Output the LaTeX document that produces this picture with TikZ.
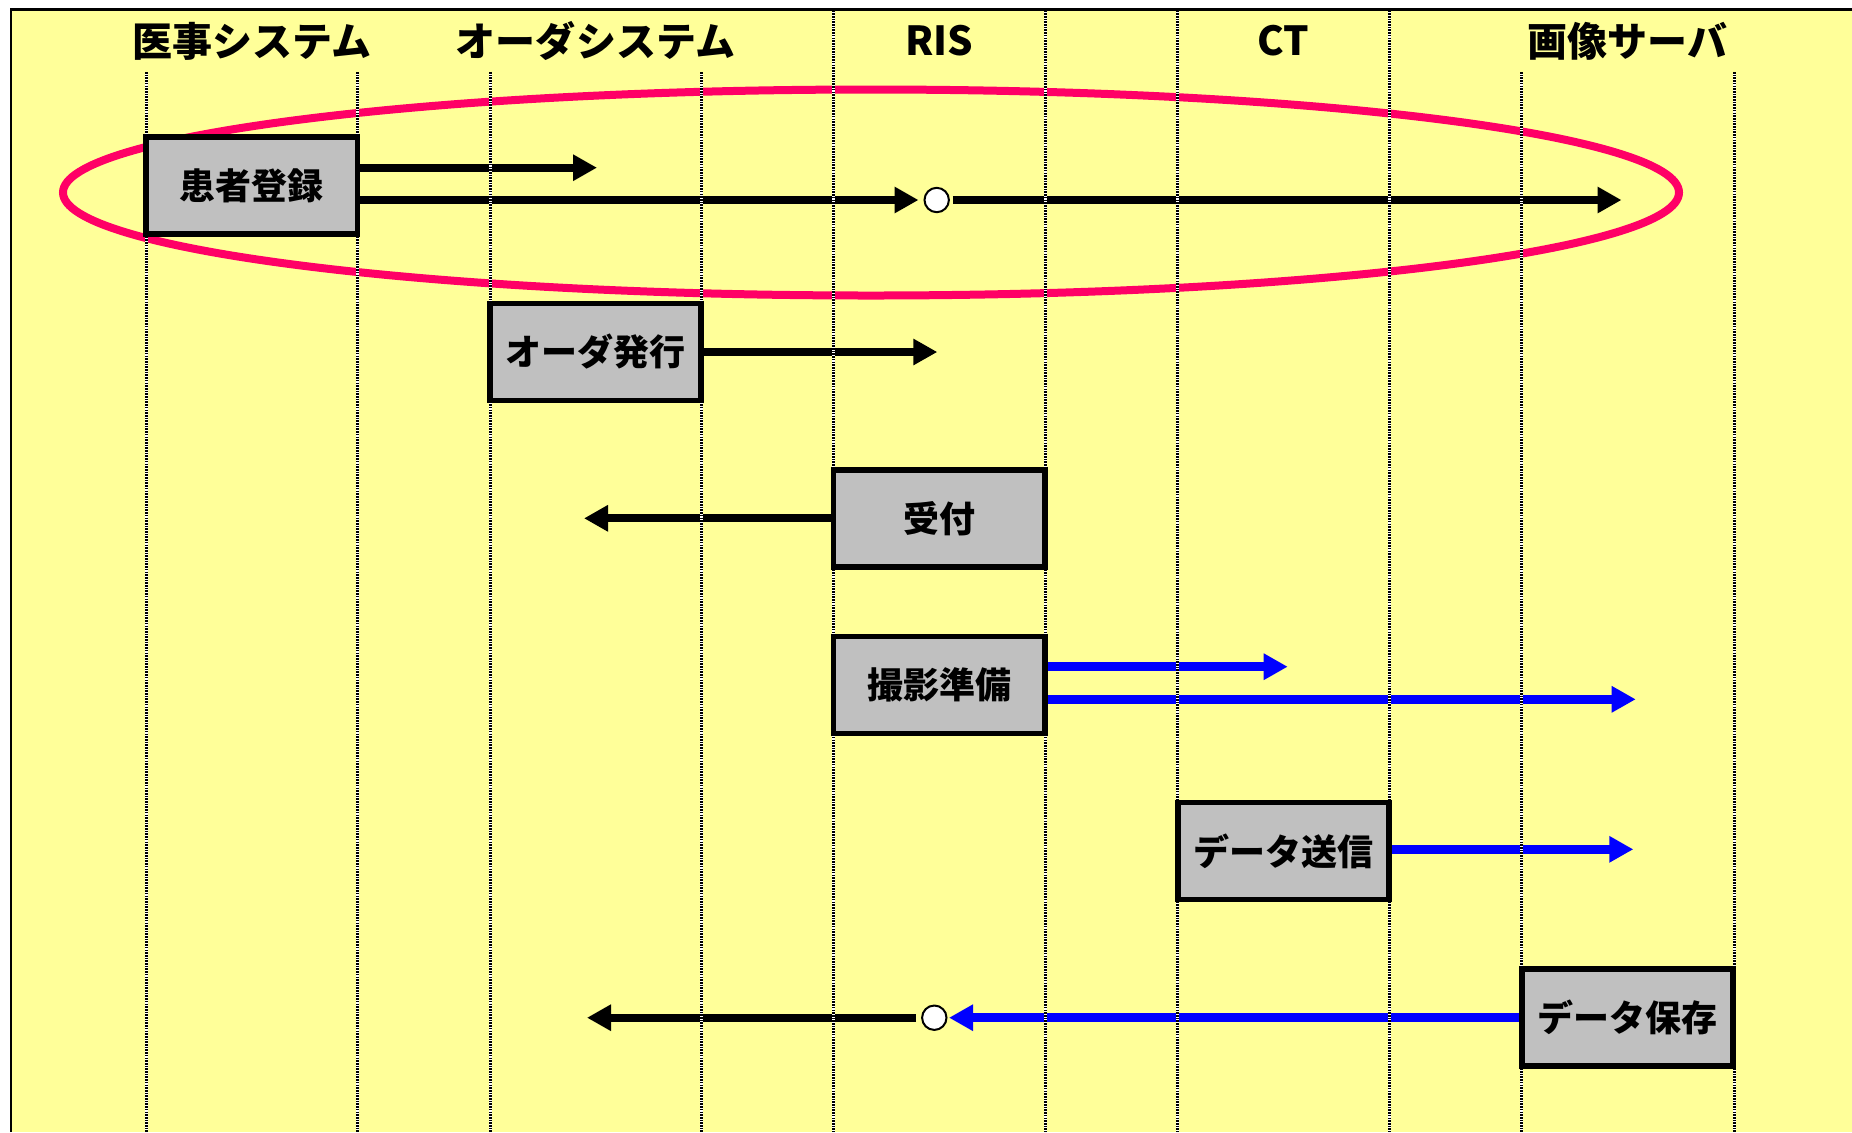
\documentclass[tikz,border=0pt]{standalone}
\usepackage{fontspec}
\setmainfont{Noto Sans CJK JP}
\usetikzlibrary{arrows.meta}
\definecolor{paper}{HTML}{FFFF99}
\definecolor{boxgray}{HTML}{C0C0C0}
\definecolor{ringred}{HTML}{FF0066}
\definecolor{msgblue}{HTML}{0000FF}
\pgfdeclarelayer{back}
\pgfdeclarelayer{mid}
\pgfsetlayers{back,mid,main}
\tikzset{
  box/.style={draw=black, fill=boxgray, line width=2.9pt, minimum width=105.75pt,
    minimum height=48.5pt, inner sep=0pt, font=\fontsize{18pt}{21pt}\selectfont\bfseries},
  head/.style={inner sep=0pt, font=\fontsize{20pt}{24pt}\selectfont\bfseries},
  dot/.style={circle, draw=black, fill=white, line width=1pt, minimum size=12.2pt, inner sep=0pt},
  tip/.style={-{Triangle[length=12pt,width=12.5pt]}},
  blk/.style={tip, draw=black, line width=4pt},
  blu/.style={tip, draw=msgblue, line width=4.5pt},
  ring/.style={draw=ringred, line width=4pt},
  lane/.style={draw=white, line width=1.5pt,
    postaction={draw=black, line width=1.5pt, dash pattern=on 0.8pt off 0.55pt}},
}
\begin{document}
\begin{tikzpicture}[x=0.5pt, y=-0.5pt]
\useasboundingbox (0,0) rectangle (1852,1132);
% header labels
\node[head] (h1) at (251.75,41) {医事システム};
\node[head] (h2) at (595.5,41) {オーダシステム};
\node[head] (h3) at (939.25,41) {RIS};
\node[head] (h4) at (1283.4,41) {CT};
\node[head] (h5) at (1627.5,41) {画像サーバ};
% process boxes
\node[box] (reg)  at (251.75,185.8) {患者登録};
\node[box] (ord)  at (595.5,352)    {オーダ発行};
\node[box] (rec)  at (939.25,518.3) {受付};
\node[box] (prep) at (939.25,685)   {撮影準備};
\node[box] (send) at (1283.4,851)   {データ送信};
\node[box] (save) at (1627.5,1017.7) {データ保存};
% relay circles
\node[dot] (c1) at (936.7,200) {};
\node[dot] (c2) at (934.3,1017.7) {};
% free arrow ends
\coordinate (e1) at (597,167.7);
\coordinate (e2) at (1621.5,200);
\coordinate (e3) at (937.3,352);
\coordinate (e4) at (584,518.3);
\coordinate (e5) at (1287.7,666.7);
\coordinate (e6) at (1635.7,699.3);
\coordinate (e7) at (1633.3,849.3);
\coordinate (e8) at (587,1017.7);
\begin{pgfonlayer}{back}
  \fill[white] (0,0) rectangle (1852,1132);
  \fill[paper] (11,9.5) rectangle (1852,1132);
  \draw[black, line width=1.25pt] (11,1132) -- (11,9.5) -- (1852,9.5);
  \draw[ring] (871,192.5) ellipse [x radius=404pt, y radius=51.5pt];
  \draw[blk] (reg.east |- e1) -- (e1);
  \draw[blk, shorten >=2.5pt] (reg.east |- c1) -- (c1.west);
  \draw[blk, shorten <=1.5pt] (c1.east) -- (e2);
  \draw[blk] (ord.east |- e3) -- (e3);
  \draw[blk] (rec.west |- e4) -- (e4);
  \draw[blu] (prep.east |- e5) -- (e5);
  \draw[blu] (prep.east |- e6) -- (e6);
  \draw[blu] (send.east |- e7) -- (e7);
  \draw[blu, shorten >=0.75pt] (save.west) -- (c2.east);
  \draw[blk, shorten <=2.5pt] (c2.west) -- (e8);
\end{pgfonlayer}
\begin{pgfonlayer}{mid}
  \foreach \x in {146,357.5,490,701,1521,1734} {\draw[lane] (\x,72) -- (\x,1132);}
  \foreach \x in {833.5,1045,1177.5,1389.3} {\draw[lane] (\x,10.5) -- (\x,1132);}
\end{pgfonlayer}
\end{tikzpicture}
\end{document}
